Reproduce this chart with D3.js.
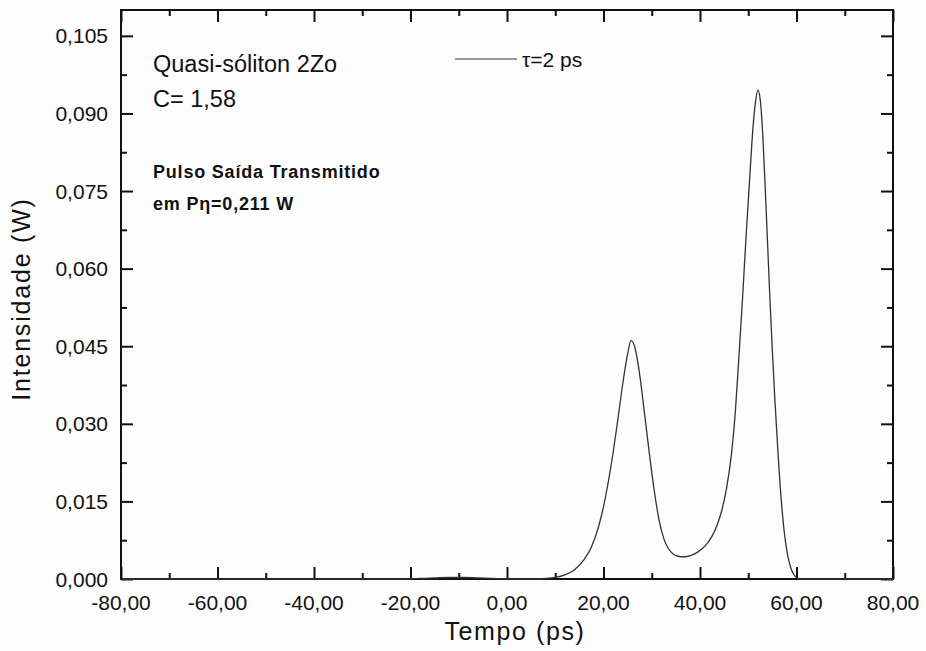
<!DOCTYPE html>
<html>
<head>
<meta charset="utf-8">
<script src="https://cdn.jsdelivr.net/npm/d3@7/dist/d3.min.js"></script>
<style>
  html, body { margin: 0; padding: 0; background: #fdfdfd; }
  svg { display: block; }
  text { font-family: "Liberation Sans", Arial, sans-serif; fill: #111; }
</style>
</head>
<body>
<svg id="chart" width="926" height="651"></svg>
<script>
// Output pulse intensity (W) versus time (ps)
const tempo = [-80, -30, -20, -18, -15, -12, -9, -6, -3, 0, 5, 8, 10, 12, 14, 16, 17.5, 19, 20, 21, 22, 23, 24, 25,
  25.7, 26.5, 27.5, 28.5, 29.5, 30.5, 31.5, 32.5, 33.5, 34.5, 35.5, 36.5, 37.5, 38.5, 39.5, 40.5, 41.5, 42.5,
  43.5, 44.5, 45.5, 46.5, 47.3, 48.0, 48.8, 49.6, 50.4, 51.0, 51.5, 52.0, 52.5, 53.0, 53.5, 54.0, 54.5, 55.0,
  55.5, 56.0, 56.5, 57.0, 57.5, 58.0, 58.5, 59.0, 59.5, 60, 61, 80];
const intensidade = [0, 0, 0, 0.0001, 0.0002, 0.0003, 0.0003, 0.0002, 0.0001, 0, 0, 0.0001, 0.0003, 0.0008, 0.0018, 0.0038, 0.0062, 0.0102, 0.014, 0.0188, 0.0245, 0.031, 0.0378, 0.0435,
  0.0461, 0.0448, 0.0395, 0.032, 0.0243, 0.0172, 0.0115, 0.0078, 0.0058, 0.0048, 0.0044, 0.0043, 0.0044, 0.0047, 0.0052, 0.0059, 0.0069, 0.0083,
  0.0103, 0.0132, 0.0175, 0.024, 0.032, 0.042, 0.054, 0.067, 0.079, 0.0875, 0.0922, 0.0945, 0.0925, 0.086, 0.076, 0.065, 0.054, 0.044,
  0.035, 0.027, 0.0195, 0.0135, 0.0088, 0.0055, 0.0032, 0.0017, 0.0008, 0.0003, 0, 0];

const xMajorTicks = [-80, -60, -40, -20, 0, 20, 40, 60, 80];
const xMinorTicks = [-70, -50, -30, -10, 10, 30, 50, 70];
const yMajorTicks = [0, 0.015, 0.03, 0.045, 0.06, 0.075, 0.09, 0.105];
const yMinorTicks = [0.0075, 0.0225, 0.0375, 0.0525, 0.0675, 0.0825, 0.0975];

const seriesLabel = "τ=2 ps";
const notes = ["Quasi-sóliton 2Zo", "C= 1,58"];
const boldNotes = ["Pulso Saída Transmitido", "em Pη=0,211 W"];

const ptBR = d3.formatLocale({decimal: ",", thousands: ".", grouping: [3], currency: ["R$", ""], minus: "-"});
const fmtX = ptBR.format(".2f");
const fmtY = ptBR.format(".3f");

const svg = d3.select("#chart");
const L = 121, R = 893, T = 10, B = 579;
const x = d3.scaleLinear().domain([-80, 80]).range([L, R]);
const y = d3.scaleLinear().domain([0, 0.11]).range([B, T]);

svg.append("rect").attr("width", 926).attr("height", 651).attr("fill", "#fdfdfd");

// Tick marks on all four sides, pointing inward
function ticks(axisFn, scale, values, size, tr) {
  const g = svg.append("g").attr("transform", tr)
    .call(axisFn(scale).tickValues(values).tickSize(-size).tickFormat(""));
  g.select(".domain").remove();
  g.selectAll(".tick line").attr("stroke", "#111").attr("stroke-width", 2);
  return g;
}
ticks(d3.axisBottom, x, xMajorTicks, 12, `translate(0,${B})`);
ticks(d3.axisBottom, x, xMinorTicks, 6, `translate(0,${B})`);
ticks(d3.axisTop, x, xMajorTicks, 12, `translate(0,${T})`);
ticks(d3.axisTop, x, xMinorTicks, 6, `translate(0,${T})`);
ticks(d3.axisLeft, y, yMajorTicks, 12, `translate(${L},0)`);
ticks(d3.axisLeft, y, yMinorTicks, 6, `translate(${L},0)`);
ticks(d3.axisRight, y, yMajorTicks, 12, `translate(${R},0)`);
ticks(d3.axisRight, y, yMinorTicks, 6, `translate(${R},0)`);

// Tick labels
svg.append("g").selectAll("text").data(xMajorTicks).join("text")
  .attr("x", d => x(d)).attr("y", 610)
  .attr("text-anchor", "middle").attr("font-size", 21)
  .text(d => fmtX(d));
svg.append("g").selectAll("text").data(yMajorTicks).join("text")
  .attr("x", 108).attr("y", d => y(d)).attr("dy", "0.36em")
  .attr("text-anchor", "end").attr("font-size", 21)
  .text(d => fmtY(d));

// Frame
svg.append("rect").attr("x", L).attr("y", T).attr("width", R - L).attr("height", B - T)
  .attr("fill", "none").attr("stroke", "#111").attr("stroke-width", 2);

// Curve
const pts = tempo.map((t, i) => [t, intensidade[i]]);
const line = d3.line().x(d => x(d[0])).y(d => y(d[1])).curve(d3.curveMonotoneX);
svg.append("path").datum(pts).attr("d", line)
  .attr("fill", "none").attr("stroke", "#333").attr("stroke-width", 1.3);

// Axis titles
svg.append("text").attr("x", 515).attr("y", 640).attr("text-anchor", "middle")
  .attr("font-size", 25).attr("letter-spacing", "1.6px").text("Tempo (ps)");
svg.append("text").attr("transform", "translate(30,299) rotate(-90)").attr("text-anchor", "middle")
  .attr("font-size", 25).attr("letter-spacing", "1.8px").text("Intensidade (W)");

// Legend
svg.append("line").attr("x1", 455).attr("x2", 517).attr("y1", 59).attr("y2", 59)
  .attr("stroke", "#777").attr("stroke-width", 1.5);
svg.append("text").attr("x", 522).attr("y", 67).attr("font-size", 21).text(seriesLabel);

// Annotations
svg.append("g").selectAll("text").data(notes).join("text")
  .attr("x", 153).attr("y", (d, i) => [72, 107][i]).attr("font-size", 23.5).text(d => d);
svg.append("g").selectAll("text").data(boldNotes).join("text")
  .attr("x", 153).attr("y", (d, i) => [178, 210][i]).attr("font-size", 18).attr("font-weight", "bold")
  .attr("letter-spacing", "0.8px").text(d => d);
</script>
</body>
</html>
